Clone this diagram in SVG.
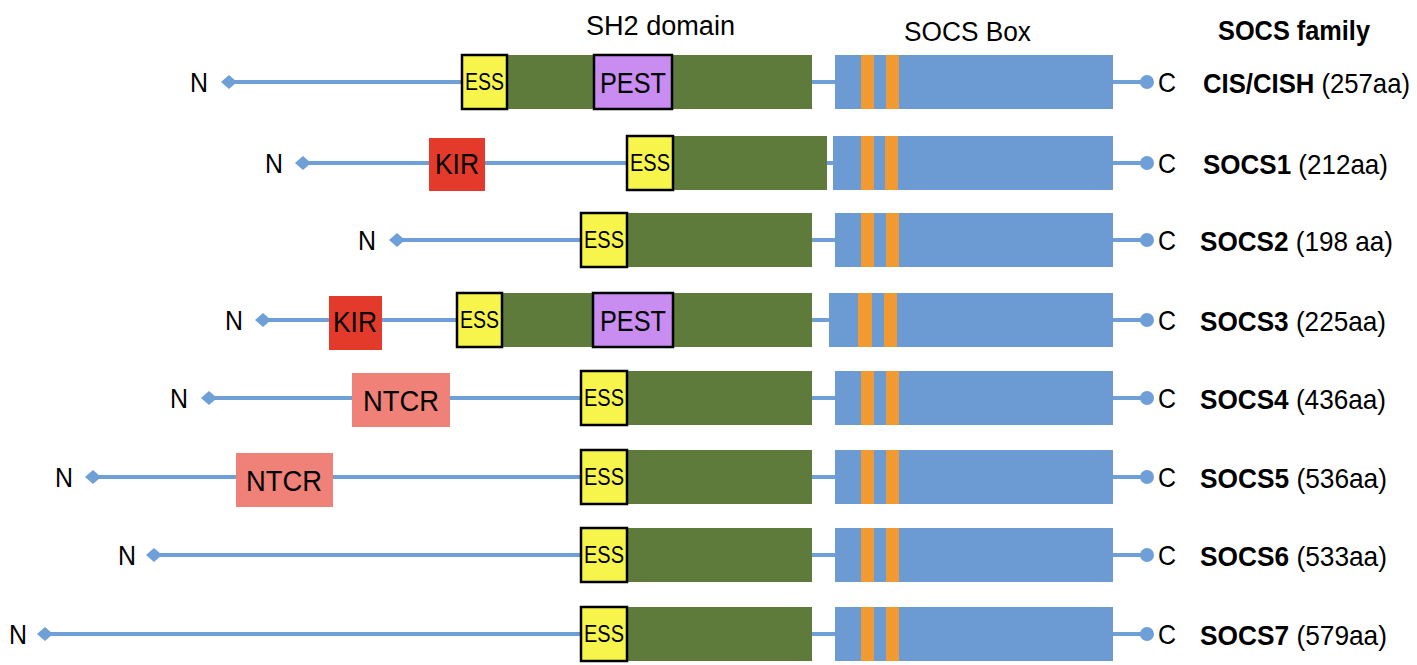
<svg xmlns="http://www.w3.org/2000/svg" width="1417" height="665" viewBox="0 0 1417 665">
<style>
text{font-family:"Liberation Sans",Arial,sans-serif;fill:#000}
.lbl{font-size:28px}
.hd{font-size:27px}
.b{font-weight:bold}
.bb{stroke:#6e9fd6;stroke-width:4;fill:none}
.g{fill:#5e7b3b}
.bl{fill:#6b9bd2}
.or{fill:#f29a32}
.ess{fill:#f7f54c;stroke:#000;stroke-width:2.5}
.pest{fill:#c98cf0;stroke:#000;stroke-width:2.5}
.kir{fill:#e43a2c}
.ntcr{fill:#ef8179}
.dm{fill:#6e9fd6}
.et{font-size:23px}
.pt{font-size:29px}
</style>
<defs>
<path id="dia" d="M-8,0 L0,-7 L8,0 L0,7 Z" class="dm"/>
</defs>

<g id="headers">
<text class="hd" x="586" y="35" textLength="149" lengthAdjust="spacingAndGlyphs">SH2 domain</text>
<text class="hd" x="904" y="41" textLength="127" lengthAdjust="spacingAndGlyphs">SOCS Box</text>
<text class="hd b" x="1218" y="40" textLength="152" lengthAdjust="spacingAndGlyphs">SOCS family</text>
</g>

<g id="connectors">
<line class="bb" x1="229" y1="82" x2="462" y2="82"/><line class="bb" x1="812" y1="82" x2="835" y2="82"/><line class="bb" x1="1113" y1="82" x2="1147" y2="82"/>
<line class="bb" x1="303" y1="163" x2="627" y2="163"/><line class="bb" x1="827" y1="163" x2="833" y2="163"/><line class="bb" x1="1113" y1="163" x2="1147" y2="163"/>
<line class="bb" x1="397" y1="240" x2="581" y2="240"/><line class="bb" x1="812" y1="240" x2="835" y2="240"/><line class="bb" x1="1113" y1="240" x2="1147" y2="240"/>
<line class="bb" x1="263" y1="320" x2="457" y2="320"/><line class="bb" x1="812" y1="320" x2="829" y2="320"/><line class="bb" x1="1113" y1="320" x2="1147" y2="320"/>
<line class="bb" x1="209" y1="398" x2="581" y2="398"/><line class="bb" x1="812" y1="398" x2="835" y2="398"/><line class="bb" x1="1113" y1="398" x2="1147" y2="398"/>
<line class="bb" x1="93" y1="477" x2="581" y2="477"/><line class="bb" x1="812" y1="477" x2="835" y2="477"/><line class="bb" x1="1113" y1="477" x2="1147" y2="477"/>
<line class="bb" x1="154" y1="555" x2="581" y2="555"/><line class="bb" x1="812" y1="555" x2="835" y2="555"/><line class="bb" x1="1113" y1="555" x2="1147" y2="555"/>
<line class="bb" x1="45" y1="634" x2="581" y2="634"/><line class="bb" x1="812" y1="634" x2="835" y2="634"/><line class="bb" x1="1113" y1="634" x2="1147" y2="634"/>
</g>

<g id="cis">
<text class="lbl" x="190" y="92" textLength="18" lengthAdjust="spacingAndGlyphs">N</text>
<use href="#dia" x="229" y="82"/>
<rect class="g" x="507" y="55" width="305" height="54"/>
<rect class="ess" x="462" y="55" width="45" height="54"/>
<text class="et" x="465" y="90" textLength="39" lengthAdjust="spacingAndGlyphs">ESS</text>
<rect class="pest" x="594" y="55" width="78" height="54"/>
<text class="pt" x="600" y="93" textLength="66" lengthAdjust="spacingAndGlyphs">PEST</text>
<rect class="bl" x="835" y="55" width="278" height="54"/>
<rect class="or" x="861" y="55" width="13" height="54"/><rect class="or" x="886" y="55" width="13" height="54"/>
<circle class="dm" cx="1147" cy="82" r="7"/>
<text class="lbl" x="1158" y="92" textLength="18" lengthAdjust="spacingAndGlyphs">C</text>
<text class="lbl" x="1203" y="93" textLength="207" lengthAdjust="spacingAndGlyphs"><tspan class="b">CIS/CISH</tspan> (257aa)</text>
</g>

<g id="socs1">
<text class="lbl" x="265" y="173" textLength="18" lengthAdjust="spacingAndGlyphs">N</text>
<use href="#dia" x="303" y="163"/>
<rect class="kir" x="429" y="138" width="56" height="53"/>
<text class="pt" x="435" y="174" textLength="44" lengthAdjust="spacingAndGlyphs">KIR</text>
<rect class="g" x="673" y="136" width="154" height="54"/>
<rect class="ess" x="627" y="136" width="46" height="54"/>
<text class="et" x="630" y="171" textLength="40" lengthAdjust="spacingAndGlyphs">ESS</text>
<rect class="bl" x="833" y="136" width="280" height="54"/>
<rect class="or" x="861" y="136" width="13" height="54"/><rect class="or" x="885" y="136" width="13" height="54"/>
<circle class="dm" cx="1147" cy="163" r="7"/>
<text class="lbl" x="1158" y="173" textLength="18" lengthAdjust="spacingAndGlyphs">C</text>
<text class="lbl" x="1203" y="174" textLength="185" lengthAdjust="spacingAndGlyphs"><tspan class="b">SOCS1</tspan> (212aa)</text>
</g>

<g id="socs2">
<text class="lbl" x="358" y="250" textLength="18" lengthAdjust="spacingAndGlyphs">N</text>
<use href="#dia" x="397" y="240"/>
<rect class="g" x="627" y="213" width="185" height="54"/>
<rect class="ess" x="581" y="213" width="46" height="54"/>
<text class="et" x="584" y="248" textLength="40" lengthAdjust="spacingAndGlyphs">ESS</text>
<rect class="bl" x="835" y="213" width="278" height="54"/>
<rect class="or" x="861" y="213" width="13" height="54"/><rect class="or" x="886" y="213" width="13" height="54"/>
<circle class="dm" cx="1147" cy="240" r="7"/>
<text class="lbl" x="1158" y="250" textLength="18" lengthAdjust="spacingAndGlyphs">C</text>
<text class="lbl" x="1200" y="251" textLength="193" lengthAdjust="spacingAndGlyphs"><tspan class="b">SOCS2</tspan> (198 aa)</text>
</g>

<g id="socs3">
<text class="lbl" x="225" y="330" textLength="18" lengthAdjust="spacingAndGlyphs">N</text>
<use href="#dia" x="263" y="320"/>
<rect class="kir" x="329" y="296" width="53" height="54"/>
<text class="pt" x="333" y="332" textLength="44" lengthAdjust="spacingAndGlyphs">KIR</text>
<rect class="g" x="502" y="293" width="310" height="54"/>
<rect class="ess" x="457" y="293" width="45" height="54"/>
<text class="et" x="460" y="328" textLength="39" lengthAdjust="spacingAndGlyphs">ESS</text>
<rect class="pest" x="593" y="293" width="80" height="54"/>
<text class="pt" x="600" y="331" textLength="66" lengthAdjust="spacingAndGlyphs">PEST</text>
<rect class="bl" x="829" y="293" width="284" height="54"/>
<rect class="or" x="858" y="293" width="14" height="54"/><rect class="or" x="884" y="293" width="13" height="54"/>
<circle class="dm" cx="1147" cy="320" r="7"/>
<text class="lbl" x="1158" y="330" textLength="18" lengthAdjust="spacingAndGlyphs">C</text>
<text class="lbl" x="1200" y="331" textLength="186" lengthAdjust="spacingAndGlyphs"><tspan class="b">SOCS3</tspan> (225aa)</text>
</g>

<g id="socs4">
<text class="lbl" x="170" y="408" textLength="18" lengthAdjust="spacingAndGlyphs">N</text>
<use href="#dia" x="209" y="398"/>
<rect class="ntcr" x="352" y="373" width="98" height="54"/>
<text class="pt" x="363" y="411" textLength="76" lengthAdjust="spacingAndGlyphs">NTCR</text>
<rect class="g" x="627" y="371" width="185" height="54"/>
<rect class="ess" x="581" y="371" width="46" height="54"/>
<text class="et" x="584" y="406" textLength="40" lengthAdjust="spacingAndGlyphs">ESS</text>
<rect class="bl" x="835" y="371" width="278" height="54"/>
<rect class="or" x="861" y="371" width="13" height="54"/><rect class="or" x="886" y="371" width="13" height="54"/>
<circle class="dm" cx="1147" cy="398" r="7"/>
<text class="lbl" x="1158" y="408" textLength="18" lengthAdjust="spacingAndGlyphs">C</text>
<text class="lbl" x="1200" y="409" textLength="186" lengthAdjust="spacingAndGlyphs"><tspan class="b">SOCS4</tspan> (436aa)</text>
</g>

<g id="socs5">
<text class="lbl" x="55" y="487" textLength="18" lengthAdjust="spacingAndGlyphs">N</text>
<use href="#dia" x="93" y="477"/>
<rect class="ntcr" x="236" y="453" width="97" height="54"/>
<text class="pt" x="246" y="491" textLength="76" lengthAdjust="spacingAndGlyphs">NTCR</text>
<rect class="g" x="627" y="450" width="185" height="54"/>
<rect class="ess" x="581" y="450" width="46" height="54"/>
<text class="et" x="584" y="485" textLength="40" lengthAdjust="spacingAndGlyphs">ESS</text>
<rect class="bl" x="835" y="450" width="278" height="54"/>
<rect class="or" x="861" y="450" width="13" height="54"/><rect class="or" x="886" y="450" width="13" height="54"/>
<circle class="dm" cx="1147" cy="477" r="7"/>
<text class="lbl" x="1158" y="487" textLength="18" lengthAdjust="spacingAndGlyphs">C</text>
<text class="lbl" x="1200" y="488" textLength="187" lengthAdjust="spacingAndGlyphs"><tspan class="b">SOCS5</tspan> (536aa)</text>
</g>

<g id="socs6">
<text class="lbl" x="118" y="565" textLength="18" lengthAdjust="spacingAndGlyphs">N</text>
<use href="#dia" x="154" y="555"/>
<rect class="g" x="627" y="528" width="185" height="54"/>
<rect class="ess" x="581" y="528" width="46" height="54"/>
<text class="et" x="584" y="563" textLength="40" lengthAdjust="spacingAndGlyphs">ESS</text>
<rect class="bl" x="835" y="528" width="278" height="54"/>
<rect class="or" x="861" y="528" width="13" height="54"/><rect class="or" x="886" y="528" width="13" height="54"/>
<circle class="dm" cx="1147" cy="555" r="7"/>
<text class="lbl" x="1158" y="565" textLength="18" lengthAdjust="spacingAndGlyphs">C</text>
<text class="lbl" x="1200" y="566" textLength="187" lengthAdjust="spacingAndGlyphs"><tspan class="b">SOCS6</tspan> (533aa)</text>
</g>

<g id="socs7">
<text class="lbl" x="9" y="644" textLength="18" lengthAdjust="spacingAndGlyphs">N</text>
<use href="#dia" x="45" y="634"/>
<rect class="g" x="627" y="607" width="185" height="54"/>
<rect class="ess" x="581" y="607" width="46" height="54"/>
<text class="et" x="584" y="642" textLength="40" lengthAdjust="spacingAndGlyphs">ESS</text>
<rect class="bl" x="835" y="607" width="278" height="54"/>
<rect class="or" x="861" y="607" width="13" height="54"/><rect class="or" x="886" y="607" width="13" height="54"/>
<circle class="dm" cx="1147" cy="634" r="7"/>
<text class="lbl" x="1158" y="644" textLength="18" lengthAdjust="spacingAndGlyphs">C</text>
<text class="lbl" x="1200" y="645" textLength="187" lengthAdjust="spacingAndGlyphs"><tspan class="b">SOCS7</tspan> (579aa)</text>
</g>
</svg>
